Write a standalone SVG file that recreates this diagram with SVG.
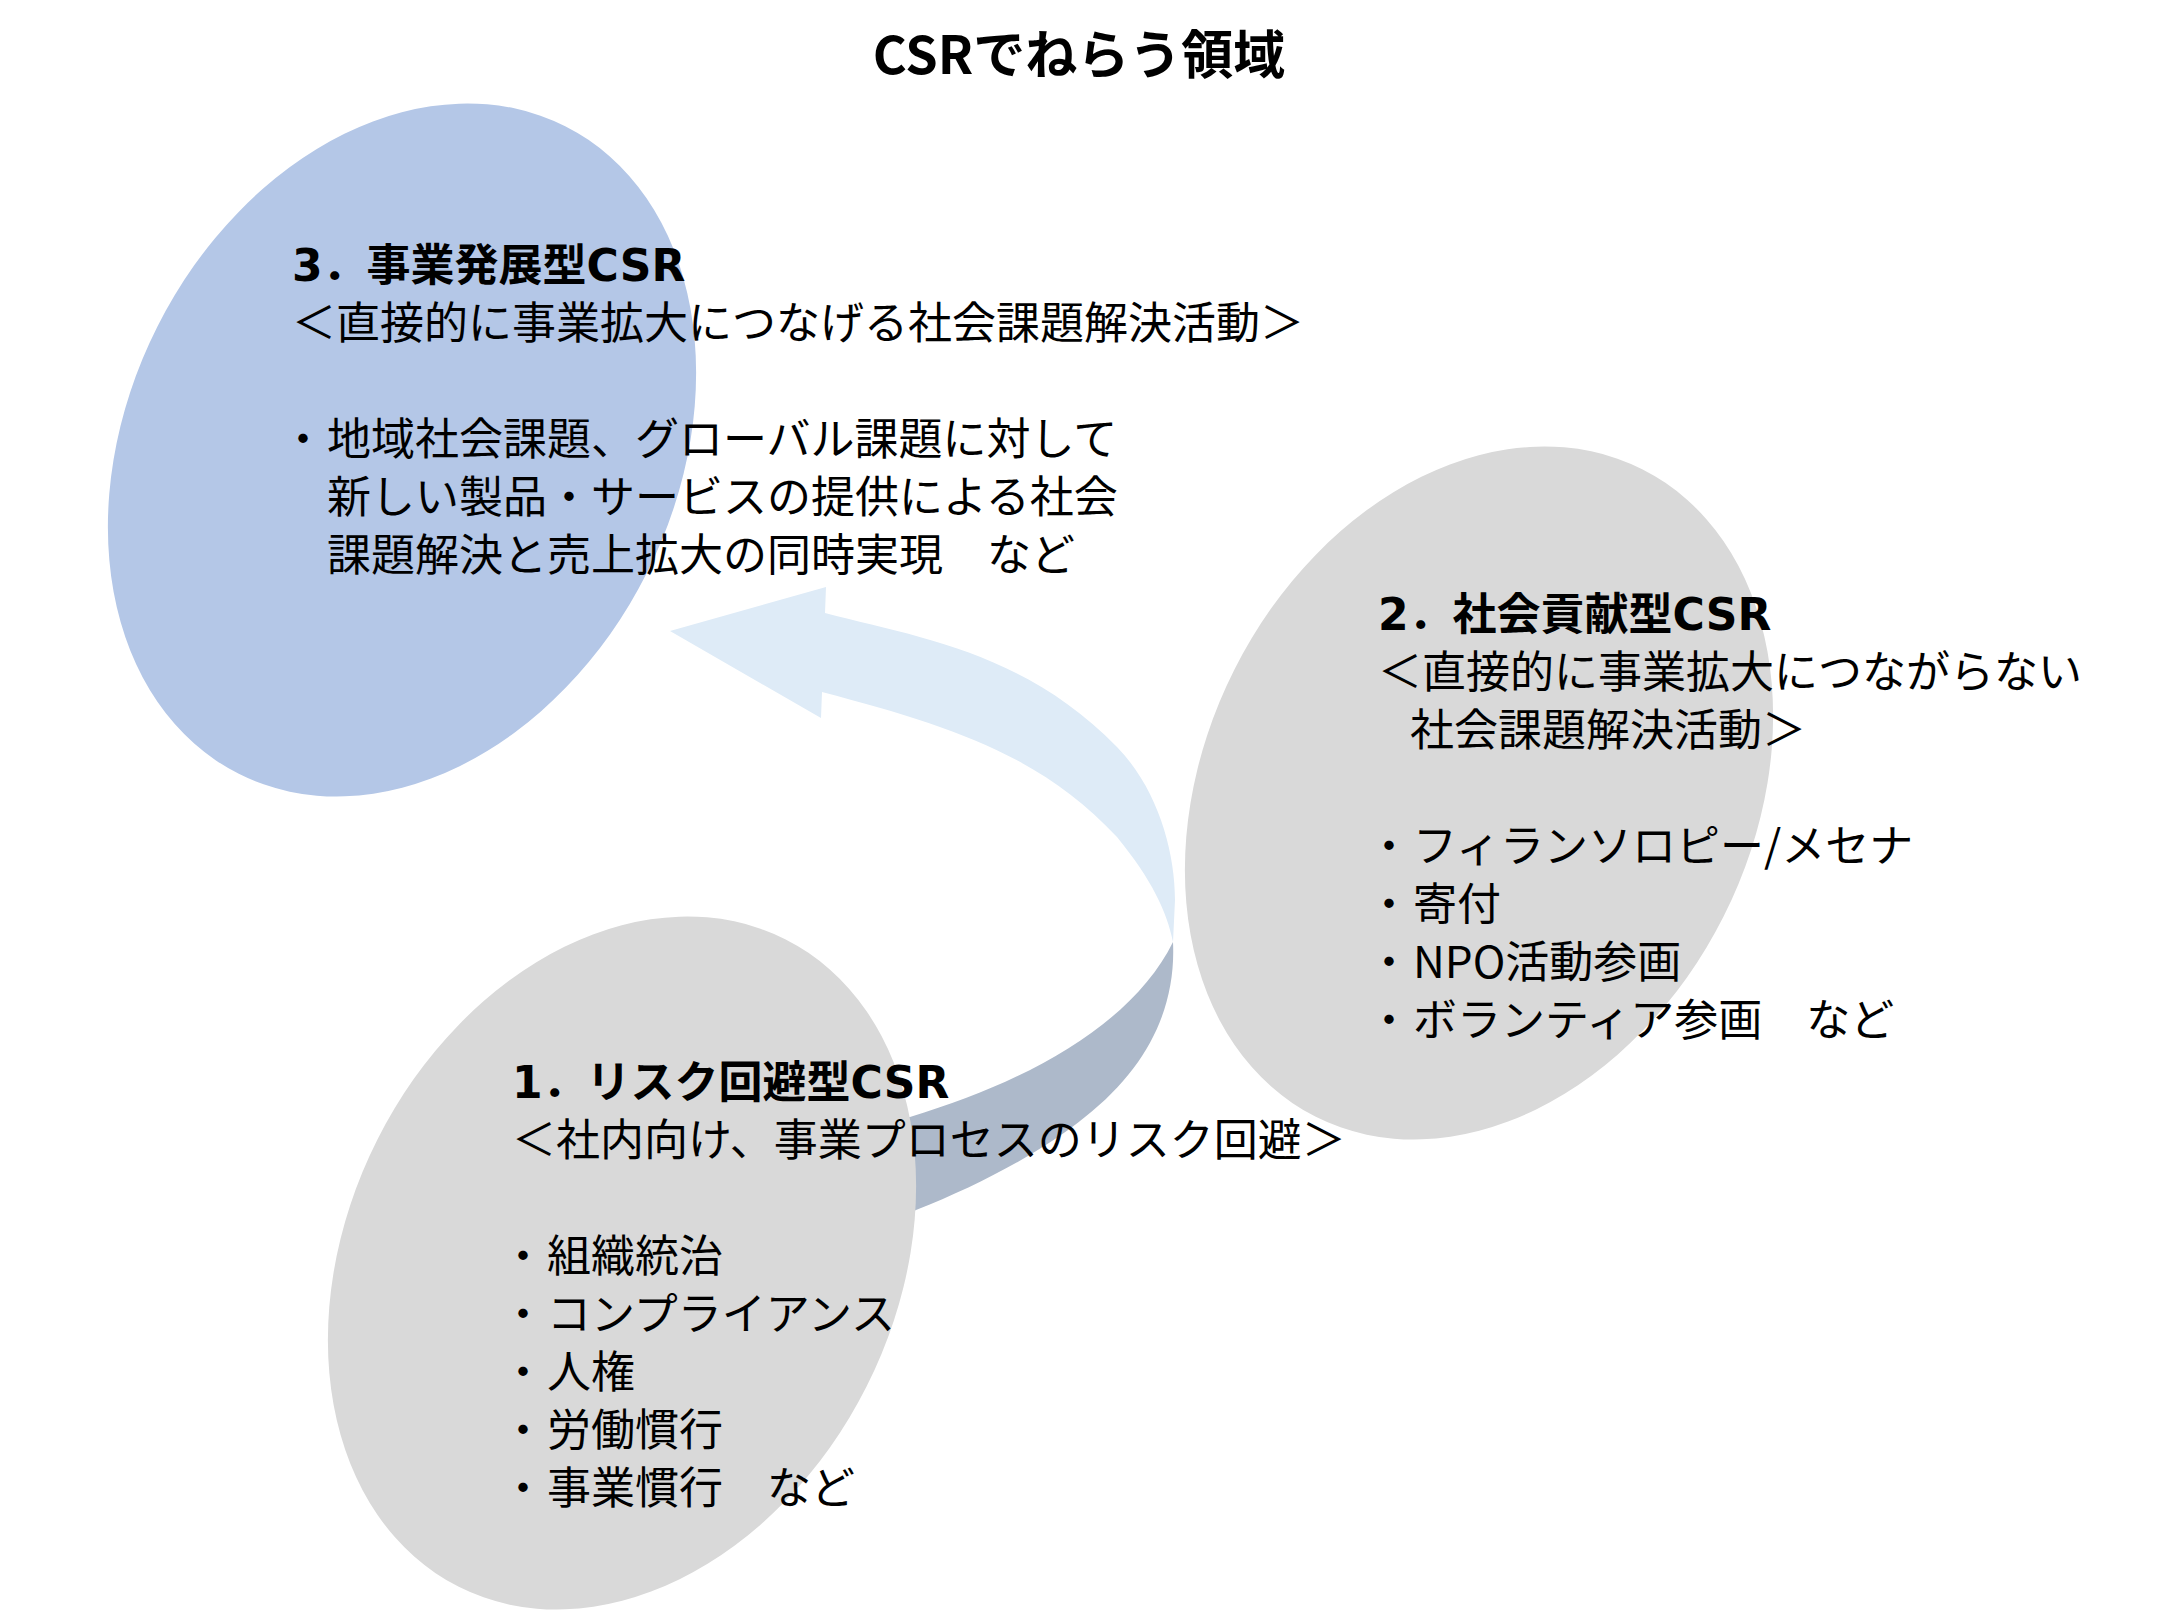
<svg xmlns="http://www.w3.org/2000/svg" width="2160" height="1620" viewBox="0 0 2160 1620">
<style>
text { font-family: "Noto Sans CJK JP", "Noto Sans", sans-serif; fill: #000; }
.t { font-size: 52px; font-weight: 700; }
.h { font-family: "DejaVu Sans", "Noto Sans CJK JP", sans-serif; font-size: 44px; font-weight: 700; }
.b { font-size: 44px; font-weight: 400; }
.blue { fill: #B4C7E7; }
.gray { fill: #D9D9D9; }
.arrF { fill: #DEEBF7; }
.arrB { fill: #ADB9CA; }
</style>
<rect width="2160" height="1620" fill="#ffffff"/>
<text id="title" class="t" x="1079" y="74" text-anchor="middle">CSRでねらう領域</text>
<g id="connectors">
  <path class="arrB" d="M1173,942 C1176,1005 1150,1066 1085,1117 C1045,1150 980,1185 916,1210 L870,1234 L870,1125 L910,1117 C1030,1081 1133,1023 1173,942 Z"/>
  <path class="arrF" d="M670,631 L826,587 L825,613 C917,637 1025,652 1117,747 C1157,788 1175,850 1175,900 L1173,942 C1167,912 1152,880 1117,837 C1040,755 951,726 822,692 L821,718 Z"/>
</g>
<g id="node3">
  <ellipse class="blue" cx="0" cy="0" rx="274" ry="362.6" transform="translate(402,450) rotate(26.75)"/>
  <text class="h" x="292" y="281">3．事業発展型CSR</text>
  <text class="b" x="292" y="339">＜直接的に事業拡大につなげる社会課題解決活動＞</text>
  <text class="b" y="455"><tspan x="281">・</tspan><tspan x="327">地域社会課題、グローバル課題に対して</tspan></text>
  <text class="b" x="327" y="513">新しい製品・サービスの提供による社会</text>
  <text class="b" x="327" y="571">課題解決と売上拡大の同時実現　など</text>
</g>
<g id="node2">
  <ellipse class="gray" cx="0" cy="0" rx="274" ry="362.6" transform="translate(1479,793) rotate(26.75)"/>
  <text class="h" x="1378" y="630">2．社会貢献型CSR</text>
  <text class="b" x="1378" y="688">＜直接的に事業拡大につながらない</text>
  <text class="b" x="1410" y="746">社会課題解決活動＞</text>
  <text class="b" y="862"><tspan x="1367">・</tspan><tspan x="1413">フィランソロピー/メセナ</tspan></text>
  <text class="b" y="920"><tspan x="1367">・</tspan><tspan x="1413">寄付</tspan></text>
  <text class="b" y="978"><tspan x="1367">・</tspan><tspan x="1413">NPO活動参画</tspan></text>
  <text class="b" y="1036"><tspan x="1367">・</tspan><tspan x="1413">ボランティア参画　など</tspan></text>
</g>
<g id="node1">
  <ellipse class="gray" cx="0" cy="0" rx="274" ry="362.6" transform="translate(622,1263) rotate(26.75)"/>
  <text class="h" x="512" y="1098">1．リスク回避型CSR</text>
  <text class="b" x="512" y="1156">＜社内向け、事業プロセスのリスク回避＞</text>
  <text class="b" y="1272"><tspan x="501">・</tspan><tspan x="547">組織統治</tspan></text>
  <text class="b" y="1330"><tspan x="501">・</tspan><tspan x="547">コンプライアンス</tspan></text>
  <text class="b" y="1388"><tspan x="501">・</tspan><tspan x="547">人権</tspan></text>
  <text class="b" y="1446"><tspan x="501">・</tspan><tspan x="547">労働慣行</tspan></text>
  <text class="b" y="1504"><tspan x="501">・</tspan><tspan x="547">事業慣行　など</tspan></text>
</g>
</svg>
